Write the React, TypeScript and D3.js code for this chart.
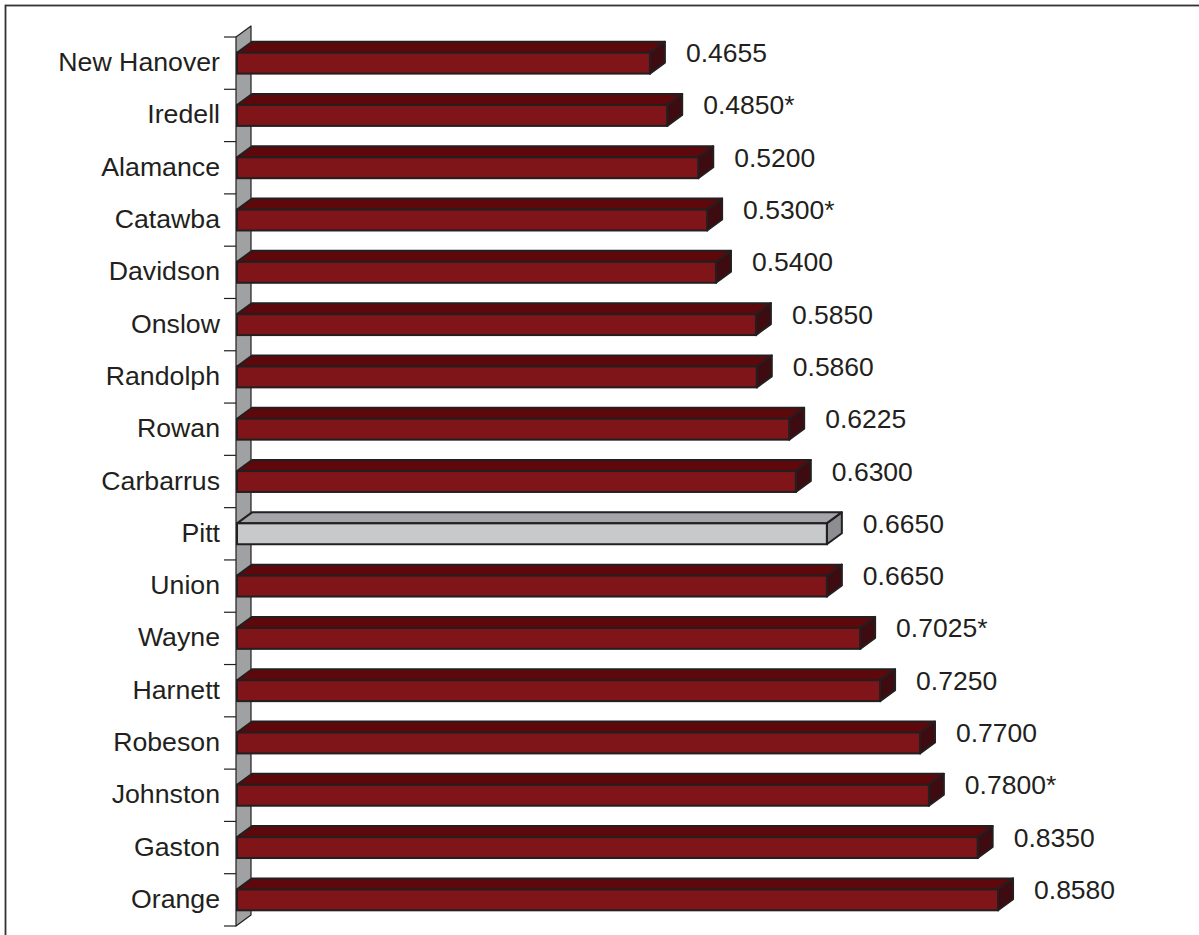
import React from "react";
import * as d3 from "d3";

const categories = [
  "New Hanover", "Iredell", "Alamance", "Catawba", "Davidson", "Onslow",
  "Randolph", "Rowan", "Carbarrus", "Pitt", "Union", "Wayne", "Harnett",
  "Robeson", "Johnston", "Gaston", "Orange",
];
const values = [
  0.4655, 0.485, 0.52, 0.53, 0.54, 0.585, 0.586, 0.6225, 0.63, 0.665, 0.665,
  0.7025, 0.725, 0.77, 0.78, 0.835, 0.858,
];
const flagged = [
  false, true, false, true, false, false, false, false, false, false, false,
  true, false, false, true, false, false,
];
const highlighted = "Pitt";

const W = 1199;
const H = 935;
const DX = 15;
const DY = -11;
const OUT = "#231f20";

export default function App() {
  const x = d3.scaleLinear().domain([0, 1]).range([237, 1124]);
  const y = d3
    .scaleBand<string>()
    .domain(categories)
    .range([37, 926])
    .paddingInner(0.6)
    .paddingOuter(0.3);
  const step = y.step();
  const bw = y.bandwidth();
  const x0 = x(0);
  const yTop = 37;
  const yBot = 926;
  const ticks = d3.range(categories.length + 1).map((i) => yTop + i * step);
  const fmt = d3.format(".4f");

  return (
    <svg
      width={W}
      height={H}
      style={{ position: "absolute", left: 0, top: 0, background: "#fff" }}
      fontFamily="'Liberation Sans', Arial, sans-serif"
    >
      <rect x={5.5} y={5.5} width={W + 10} height={H + 10} fill="none" stroke="#333" strokeWidth={1.8} />
      <polygon
        points={`${x0 - 1},${yTop} ${x0 - 1 + DX},${yTop + DY} ${x0 - 1 + DX},${yBot + DY} ${x0 - 1},${yBot}`}
        fill="#a0a1a3"
        stroke={OUT}
        strokeWidth={1.2}
        strokeLinejoin="round"
      />
      {ticks.map((t, i) => (
        <line key={i} x1={224} x2={x0 - 1} y1={t} y2={t} stroke={OUT} strokeWidth={1.2} />
      ))}
      {categories.map((c, i) => {
        const top = y(c)!;
        const bot = top + bw;
        const r = x(values[i]);
        const hi = c === highlighted;
        const front = hi ? "#c8c9cb" : "#7f1419";
        const topC = hi ? "#a4a5a8" : "#5f080c";
        const side = hi ? "#8c8e91" : "#3e0c10";
        return (
          <g key={c}>
            <polygon
              points={`${x0},${top} ${x0 + DX},${top + DY} ${r + DX},${top + DY} ${r},${top}`}
              fill={topC}
              stroke={OUT}
              strokeWidth={2}
              strokeLinejoin="round"
            />
            <polygon
              points={`${r},${top} ${r + DX},${top + DY} ${r + DX},${bot + DY} ${r},${bot}`}
              fill={side}
              stroke={OUT}
              strokeWidth={2}
              strokeLinejoin="round"
            />
            <rect x={x0} y={top} width={r - x0} height={bw} fill={front} stroke={OUT} strokeWidth={2} />
            <text
              x={r + DX + 21}
              y={top + bw / 2 + DY + 10}
              fontSize={26.5}
              fill={OUT}
            >
              {fmt(values[i]) + (flagged[i] ? "*" : "")}
            </text>
            <text
              x={220}
              y={top + bw / 2 + 8}
              fontSize={26.7}
              fill={OUT}
              textAnchor="end"
            >
              {c}
            </text>
          </g>
        );
      })}
    </svg>
  );
}
